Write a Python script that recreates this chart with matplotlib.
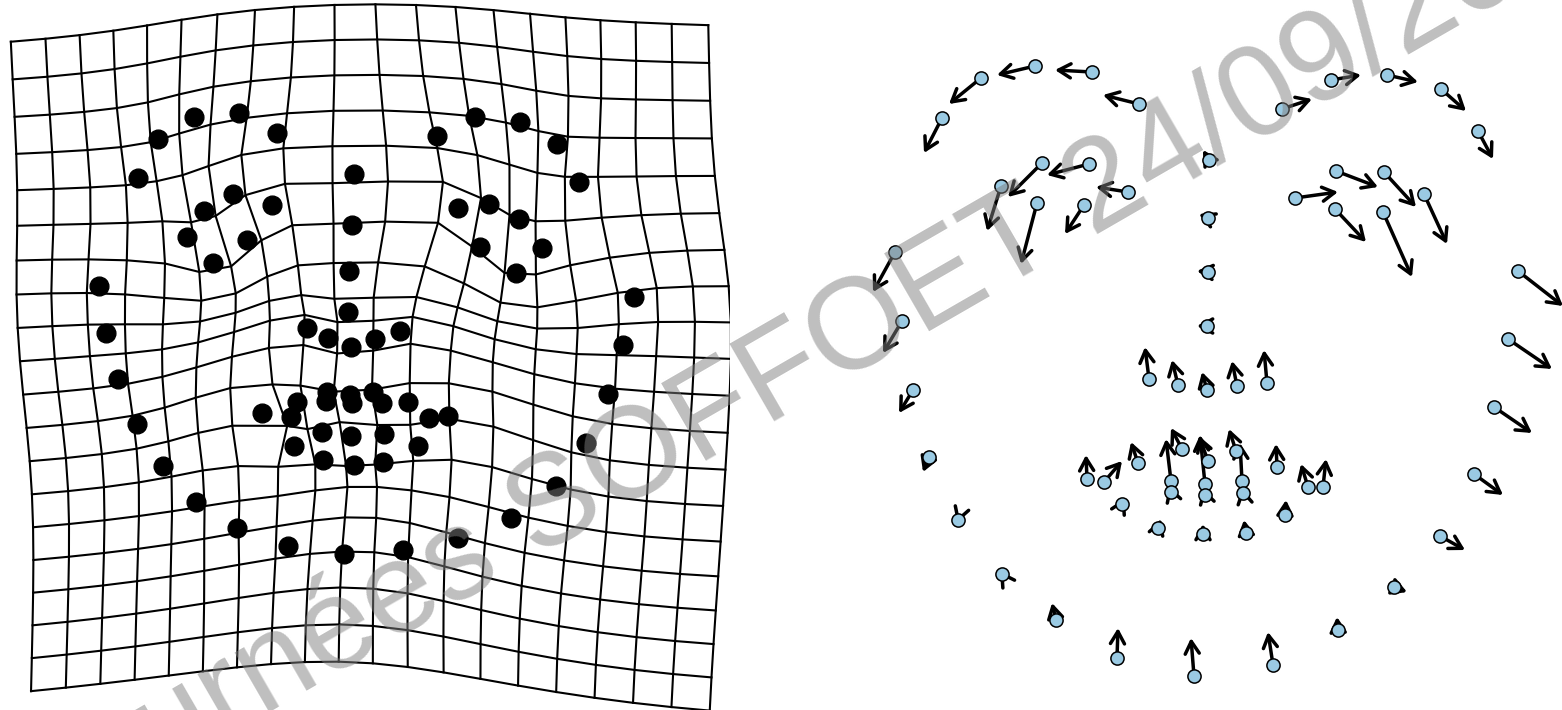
import numpy as np
import matplotlib.pyplot as plt

# Reference landmarks (right panel), 68-point face layout, image units (y down)
ref_x = [895, 902, 913, 929, 958, 1002, 1056, 1117, 1194, 1273, 1338, 1394, 1440, 1474, 1494, 1508, 1518,
         942, 981, 1035, 1092, 1139, 1282, 1331, 1387, 1441, 1478,
         1209, 1208, 1208, 1207, 1149, 1178, 1207, 1237, 1267,
         1001, 1042, 1089, 1128, 1084, 1037, 1295, 1336, 1384, 1424, 1383, 1335,
         1087, 1138, 1182, 1208, 1236, 1277, 1323, 1285, 1246, 1203, 1158, 1122,
         1104, 1171, 1205, 1242, 1308, 1243, 1205, 1171]
ref_y = [252, 321, 390, 457, 520, 574, 620, 658, 676, 665, 630, 587, 536, 474, 407, 339, 271,
         118, 78, 66, 72, 104, 109, 80, 75, 89, 131,
         160, 218, 272, 326, 379, 385, 390, 386, 383,
         186, 163, 164, 192, 205, 203, 198, 171, 172, 194, 212, 209,
         479, 463, 449, 461, 451, 467, 487, 515, 533, 534, 528, 504,
         482, 481, 484, 481, 487, 493, 495, 492]

# Arrow tips (magnified displacement towards the target)
tip_x = [873, 883, 899, 923, 957, 1000, 1052, 1118, 1191, 1268, 1337, 1407, 1465, 1503, 1532, 1552, 1563,
         924, 949, 997, 1055, 1103, 1312, 1361, 1418, 1466, 1493,
         1203, 1199, 1197, 1197, 1145, 1172, 1202, 1232, 1264,
         987, 1008, 1047, 1096, 1065, 1021, 1338, 1378, 1416, 1447, 1412, 1366,
         1086, 1131, 1171, 1199, 1229, 1276, 1326, 1286, 1244, 1203, 1161, 1125,
         1122, 1166, 1200, 1240, 1301, 1242, 1203, 1169]
tip_y = [292, 353, 413, 472, 523, 571, 603, 628, 638, 632, 617, 592, 550, 495, 433, 369, 306,
         153, 104, 75, 70, 95, 99, 75, 82, 111, 159,
         150, 214, 271, 326, 347, 360, 372, 361, 350,
         231, 197, 175, 187, 234, 264, 192, 187, 207, 244, 277, 242,
         455, 442, 428, 436, 429, 444, 459, 500, 520, 524, 519, 498,
         461, 439, 435, 443, 464, 488, 488, 486]

# Target landmarks (left panel)
tgt_x = [99, 106, 118, 137, 163, 196, 237, 288, 344, 403, 458, 511, 556, 586, 608, 623, 634,
         138, 158, 194, 239, 277, 437, 475, 520, 557, 579,
         354, 352, 349, 348, 307, 328, 351, 375, 400,
         187, 204, 233, 272, 247, 213, 458, 489, 519, 542, 516, 480,
         262, 297, 327, 350, 373, 408, 448, 418, 383, 354, 323, 294,
         291, 326, 352, 382, 429, 384, 351, 322]
tgt_y = [286, 333, 379, 424, 466, 502, 528, 546, 554, 550, 538, 518, 486, 443, 394, 345, 297,
         178, 139, 117, 113, 133, 136, 117, 122, 144, 182,
         174, 225, 271, 312, 328, 338, 347, 339, 331,
         237, 211, 194, 205, 240, 263, 208, 204, 219, 248, 273, 247,
         413, 402, 392, 395, 392, 402, 416, 446, 462, 465, 460, 446,
         417, 401, 403, 403, 418, 434, 436, 432]

watermark = "Journées SOFFOET 24/09/2020"

# where the warped grid's corners sit in the left panel (TL, TR, BL, BR)
corner_x = [9, 713, 27, 712]
corner_y = [42, 27, 678, 698]


def tps_fit(src, dst):
    """Thin-plate spline coefficients mapping src -> dst (U = r^2 log r^2)."""
    n = len(src)
    d2 = ((src[:, None, :] - src[None, :, :]) ** 2).sum(-1)
    K = np.where(d2 > 0, d2 * np.log(np.where(d2 > 0, d2, 1)), 0.0)
    P = np.hstack([np.ones((n, 1)), src])
    L = np.zeros((n + 3, n + 3))
    L[:n, :n] = K
    L[:n, n:] = P
    L[n:, :n] = P.T
    Y = np.vstack([dst, np.zeros((3, 2))])
    return np.linalg.solve(L, Y)


def tps_apply(coef, src, pts):
    n = len(src)
    d2 = ((pts[:, None, :] - src[None, :, :]) ** 2).sum(-1)
    U = np.where(d2 > 0, d2 * np.log(np.where(d2 > 0, d2, 1)), 0.0)
    P = np.hstack([np.ones((len(pts), 1)), pts])
    return U @ coef[:n] + P @ coef[n:]


ref = np.column_stack([ref_x, ref_y]).astype(float)
tgt = np.column_stack([tgt_x, tgt_y]).astype(float)

# bounds of the regular grid in reference space, from the corner positions
inv = tps_fit(tgt, ref)
c = tps_apply(inv, tgt, np.column_stack([corner_x, corner_y]).astype(float))
left, right = (c[0, 0] + c[2, 0]) / 2, (c[1, 0] + c[3, 0]) / 2
top, bottom = (c[0, 1] + c[1, 1]) / 2, (c[2, 1] + c[3, 1]) / 2

n_col = 20
n_row = 20
gx = np.linspace(left, right, n_col)
gy = np.linspace(bottom, top, n_row)
GX, GY = np.meshgrid(gx, gy)
coef = tps_fit(ref, tgt)
warped = tps_apply(coef, ref, np.column_stack([GX.ravel(), GY.ravel()]))
WX = warped[:, 0].reshape(GX.shape)
WY = warped[:, 1].reshape(GY.shape)

fig = plt.figure(figsize=(15.62, 7.10), dpi=100)
split = 730

# left: deformation grid with target landmarks
ax1 = fig.add_axes([0, 0, split / 1562, 1])
for i in range(n_row):
    ax1.plot(WX[i, :], WY[i, :], color='black', lw=1.5)
for j in range(n_col):
    ax1.plot(WX[:, j], WY[:, j], color='black', lw=1.5)
ax1.plot(tgt[:, 0], tgt[:, 1], 'o', color='black', ms=13.5, zorder=3)
ax1.set_xlim(0, split)
ax1.set_ylim(710, 0)
ax1.axis('off')

# right: reference points with displacement vectors
ax2 = fig.add_axes([split / 1562, 0, 1 - split / 1562, 1])
for x0, y0, x1, y1 in zip(ref_x, ref_y, tip_x, tip_y):
    ax2.annotate('', xy=(x1, y1), xytext=(x0, y0), annotation_clip=False,
                 arrowprops=dict(arrowstyle='->,head_length=0.4,head_width=0.23',
                                 mutation_scale=22, lw=2.5, color='black',
                                 shrinkA=0, shrinkB=0))
ax2.plot(ref_x, ref_y, 'o', ms=9.5, mfc='#9ACAE3', mec='black', mew=1.1, zorder=4)
ax2.set_xlim(split, 1562)
ax2.set_ylim(710, 0)
ax2.axis('off')

# watermark drawn over everything
fig.text(44 / 1562, 1 - 842 / 710, watermark, fontsize=93, family='Liberation Sans',
         color='#7f7f7f', alpha=0.5, rotation=30, rotation_mode='anchor',
         ha='left', va='baseline', zorder=10)

fig.savefig('out.png', dpi=100)
